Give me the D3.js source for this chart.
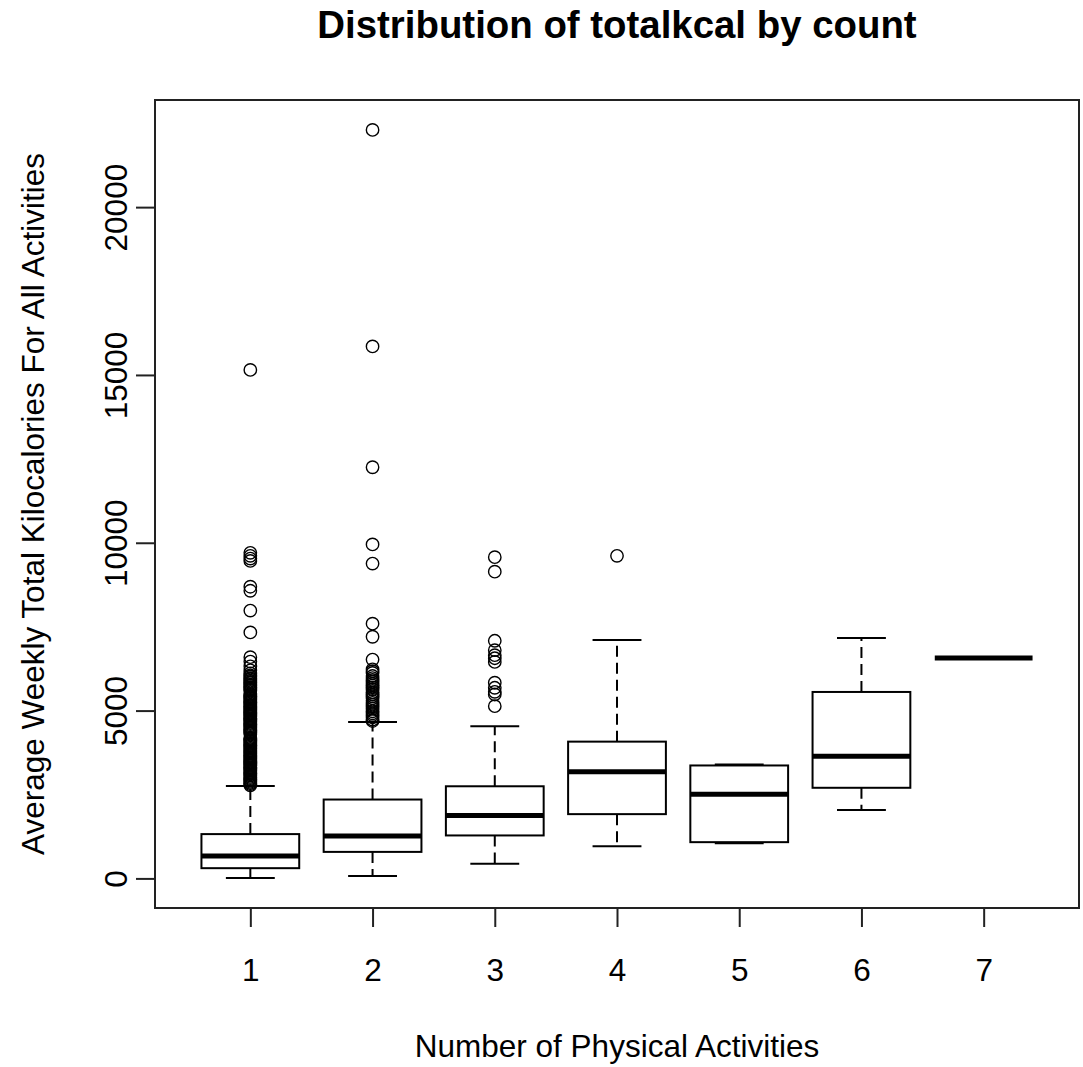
<!DOCTYPE html>
<html>
<head>
<meta charset="utf-8">
<script src="https://cdn.jsdelivr.net/npm/d3@7"></script>
<style>
  html, body { margin: 0; padding: 0; background: #fff; }
  svg { display: block; }
  text { font-family: "Liberation Sans", Arial, sans-serif; fill: #000; }
</style>
</head>
<body>
<svg id="chart" width="1083" height="1067"></svg>
<script>
// ---- data ----
const categories = [1, 2, 3, 4, 5, 6, 7];
const lowerWhisker = [10, 70, 440, 960, 1045, 2035, 6570];
const q1 = [305, 790, 1280, 1915, 1080, 2700, 6570];
const median = [670, 1265, 1875, 3175, 2510, 3640, 6570];
const q3 = [1320, 2350, 2745, 4075, 3365, 5555, 6570];
const upperWhisker = [2750, 4660, 4530, 7100, 3395, 7160, 6570];

const outliers1 = [15150, 9700, 9610, 9530, 9460, 8690, 8570, 7980, 7330, 6590, 6460, 6320, 6200, 6110,
  6050, 6015, 5970, 5935, 5890, 5855, 5820, 5775, 5740, 5700, 5665, 5625, 5590, 5500, 5465, 5430,
  5395, 5360, 5320, 5285, 5250, 5215, 5175, 5140, 5105, 5065, 5030, 4995, 4960, 4920, 4885, 4850,
  4815, 4775, 4740, 4705, 4670, 4630, 4595, 4560, 4525, 4485, 4450, 4415, 4380, 4345, 4305, 4185,
  4150, 4115, 4080, 4040, 4005, 3970, 3935, 3895, 3860, 3825, 3790, 3750, 3715, 3680, 3645, 3605,
  3570, 3535, 3500, 3460, 3425, 3390, 3355, 3315, 3280, 3245, 3210, 3170, 3135, 3100, 3065, 3025,
  2990, 2955, 2920, 2880, 2845, 2810, 2775];
const outliers2 = [22300, 15850, 12250, 9950, 9380, 7590, 7200, 6520,
  6230, 6175, 6120, 6030, 5970, 5915, 5860, 5800, 5745, 5690, 5630, 5540, 5480, 5425, 5365,
  5290, 5230, 5175, 5120, 5060, 4980, 4920, 4865, 4800, 4730, 4690];
const outliers3 = [9570, 9140, 7080, 6800, 6650, 6560, 6450, 5830, 5680, 5560, 5480, 5130];
const outliers4 = [9610];
const outliers5 = [];
const outliers6 = [];
const outliers7 = [];
const outliers = [outliers1, outliers2, outliers3, outliers4, outliers5, outliers6, outliers7];

const yTicks = [0, 5000, 10000, 15000, 20000];
const titleText = "Distribution of totalkcal by count";
const xLabel = "Number of Physical Activities";
const yLabel = "Average Weekly Total Kilocalories For All Activities";

// ---- layout ----
const plot = { left: 155, right: 1079, top: 100, bottom: 908 };
const svg = d3.select("#chart");

const n = categories.length;
const xPad = 0.04 * n;
const x = d3.scaleLinear()
  .domain([0.5 - xPad, n + 0.5 + xPad])
  .range([plot.left, plot.right]);

const allVals = [].concat(lowerWhisker, upperWhisker, ...outliers);
const [ymin, ymax] = d3.extent(allVals);
const D = ymax - ymin;
const y = d3.scaleLinear()
  .domain([ymin - 0.04 * D, ymax + 0.04 * D])
  .range([plot.bottom, plot.top]);

const boxW = 0.8 * (x(2) - x(1));
const capW = 0.5 * boxW;

const boxes = categories.map((c, i) => ({
  c, lo: lowerWhisker[i], q1: q1[i], med: median[i], q3: q3[i], hi: upperWhisker[i], out: outliers[i]
}));

const g = svg.append("g");

// whiskers (dashed)
g.selectAll("line.wlo").data(boxes).join("line")
  .attr("x1", d => x(d.c)).attr("x2", d => x(d.c))
  .attr("y1", d => y(d.q1)).attr("y2", d => y(d.lo))
  .attr("stroke", "#000").attr("stroke-width", 2).attr("stroke-dasharray", "11,6");
g.selectAll("line.whi").data(boxes).join("line")
  .attr("x1", d => x(d.c)).attr("x2", d => x(d.c))
  .attr("y1", d => y(d.q3)).attr("y2", d => y(d.hi))
  .attr("stroke", "#000").attr("stroke-width", 2).attr("stroke-dasharray", "11,6");

// caps
g.selectAll("line.caplo").data(boxes).join("line")
  .attr("x1", d => x(d.c) - capW / 2).attr("x2", d => x(d.c) + capW / 2)
  .attr("y1", d => y(d.lo)).attr("y2", d => y(d.lo))
  .attr("stroke", "#000").attr("stroke-width", 2);
g.selectAll("line.caphi").data(boxes).join("line")
  .attr("x1", d => x(d.c) - capW / 2).attr("x2", d => x(d.c) + capW / 2)
  .attr("y1", d => y(d.hi)).attr("y2", d => y(d.hi))
  .attr("stroke", "#000").attr("stroke-width", 2);

// boxes
g.selectAll("rect.box").data(boxes).join("rect")
  .attr("x", d => x(d.c) - boxW / 2)
  .attr("width", boxW)
  .attr("y", d => y(d.q3))
  .attr("height", d => y(d.q1) - y(d.q3))
  .attr("fill", "#fff").attr("stroke", "#000").attr("stroke-width", 2);

// medians
g.selectAll("line.med").data(boxes).join("line")
  .attr("x1", d => x(d.c) - boxW / 2).attr("x2", d => x(d.c) + boxW / 2)
  .attr("y1", d => y(d.med)).attr("y2", d => y(d.med))
  .attr("stroke", "#000").attr("stroke-width", 5);

// outliers
const outPts = boxes.flatMap(d => d.out.map(v => ({ c: d.c, v })));
g.selectAll("circle.out").data(outPts).join("circle")
  .attr("cx", d => x(d.c)).attr("cy", d => y(d.v)).attr("r", 6.2)
  .attr("fill", "none").attr("stroke", "#000").attr("stroke-width", 1.4);

// frame
svg.append("rect")
  .attr("x", plot.left).attr("y", plot.top)
  .attr("width", plot.right - plot.left).attr("height", plot.bottom - plot.top)
  .attr("fill", "none").attr("stroke", "#222").attr("stroke-width", 2);

// x axis
const xAxis = svg.append("g")
  .attr("transform", `translate(0,${plot.bottom})`)
  .call(d3.axisBottom(x).tickValues(categories).tickSize(19).tickFormat(d3.format("d")));
xAxis.select(".domain").remove();
xAxis.selectAll(".tick line").attr("stroke", "#222").attr("stroke-width", 2);
xAxis.selectAll(".tick text")
  .attr("y", 73).attr("dy", 0)
  .style("font-size", "31.5px").style("font-family", "'Liberation Sans', Arial, sans-serif")
  .attr("fill", "#000");

// y axis
const yAxis = svg.append("g")
  .attr("transform", `translate(${plot.left},0)`)
  .call(d3.axisLeft(y).tickValues(yTicks).tickSize(19).tickFormat(d3.format("d")));
yAxis.select(".domain").remove();
yAxis.selectAll(".tick line").attr("stroke", "#222").attr("stroke-width", 2);
yAxis.selectAll(".tick text")
  .attr("transform", "rotate(-90)")
  .attr("x", 0).attr("y", -28).attr("dy", 0)
  .attr("text-anchor", "middle")
  .style("font-size", "31.5px").style("font-family", "'Liberation Sans', Arial, sans-serif")
  .attr("fill", "#000");

// labels
const cx = (plot.left + plot.right) / 2;
const cy = (plot.top + plot.bottom) / 2;
svg.append("text")
  .attr("x", cx).attr("y", 38)
  .attr("text-anchor", "middle")
  .style("font-size", "38.4px").style("font-weight", "bold")
  .text(titleText);
svg.append("text")
  .attr("x", cx).attr("y", 1057)
  .attr("text-anchor", "middle")
  .style("font-size", "31.5px")
  .text(xLabel);
svg.append("text")
  .attr("transform", `translate(44,${cy}) rotate(-90)`)
  .attr("text-anchor", "middle")
  .style("font-size", "31.5px")
  .text(yLabel);
</script>
</body>
</html>
